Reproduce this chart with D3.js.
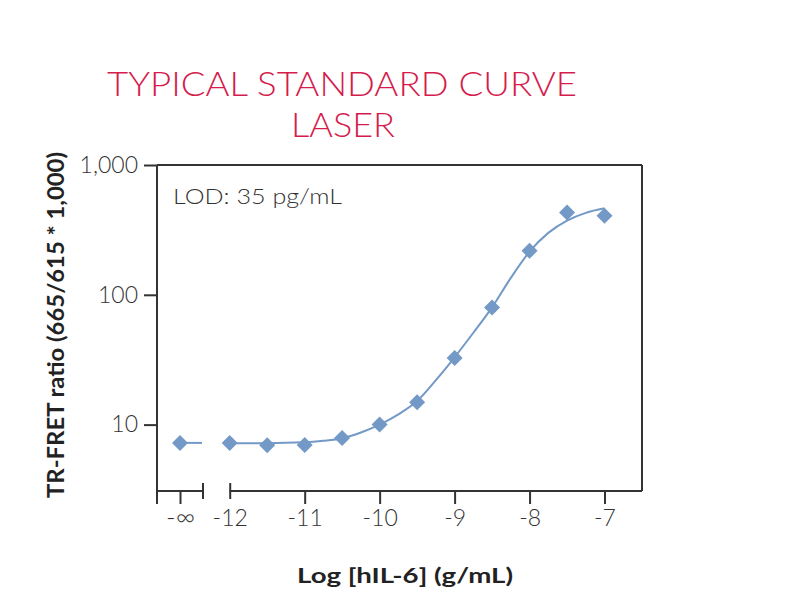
<!DOCTYPE html>
<html>
<head>
<meta charset="utf-8">
<script src="https://cdn.jsdelivr.net/npm/d3@7"></script>
<style>
  body { margin: 0; background: #fff; }
  text { font-family: Lato, "Open Sans", sans-serif; }
</style>
</head>
<body>
<svg width="800" height="600"></svg>
<script>
// measured points (log conc, ratio)
const blankLabel = ["-∞"];
const blankRatio = [7.23];
const logConc = [-12, -11.5, -11, -10.5, -10, -9.5, -9, -8.5, -8, -7.5, -7];
const ratio = [7.23, 6.93, 6.98, 7.9, 10, 14.9, 32.6, 79.9, 218, 430, 407];

// fitted curve
const curveConc = [-12, -11.5, -11, -10.75, -10.5, -10.25, -10, -9.75, -9.5, -9.25, -9, -8.75, -8.5, -8.25, -8, -7.75, -7.5, -7.25, -7];
const curveRatio = [7.2, 7.2, 7.3, 7.5, 7.85, 8.7, 10, 12, 15.2, 22, 33, 51, 80, 135, 215, 300, 373, 428, 464];

const xTicks = [-12, -11, -10, -9, -8, -7];
const yTicks = [10, 100, 1000];

const svg = d3.select("svg");
const pL = 157, pR = 642, pT = 165, pB = 491;
const breakL = 203, breakR = 229.5;
const ink = "#333", blue = "#7399c6";

// scales
const x = d3.scaleLinear().domain([-12.97, -6.5]).range([pL, pR]);
const xInf = d3.scalePoint().domain(blankLabel).range([pL, breakL]);
const y = d3.scaleLog().domain([3.08, 1000]).range([pB, pT]);

// title
svg.append("text").attr("x", 342).attr("y", 96).attr("text-anchor", "middle")
   .attr("fill", "#d51c4c").attr("font-size", 34).attr("font-weight", 300)
   .attr("textLength", 470).attr("lengthAdjust", "spacingAndGlyphs")
   .text("TYPICAL STANDARD CURVE");
svg.append("text").attr("x", 343).attr("y", 137).attr("text-anchor", "middle")
   .attr("fill", "#d51c4c").attr("font-size", 34).attr("font-weight", 300)
   .attr("textLength", 104).attr("lengthAdjust", "spacingAndGlyphs")
   .text("LASER");

// frame
const frame = svg.append("g").attr("stroke", ink).attr("stroke-width", 2).attr("fill", "none");
frame.append("line").attr("x1", pL).attr("x2", pL).attr("y1", pT).attr("y2", pB + 13);
frame.append("line").attr("x1", pL).attr("x2", pR).attr("y1", pT).attr("y2", pT);
frame.append("line").attr("x1", pR).attr("x2", pR).attr("y1", pT).attr("y2", pB);
frame.append("line").attr("x1", pL).attr("x2", breakL).attr("y1", pB).attr("y2", pB);
frame.append("line").attr("x1", breakR).attr("x2", pR).attr("y1", pB).attr("y2", pB);
frame.append("line").attr("x1", breakL).attr("x2", breakL).attr("y1", pB - 8).attr("y2", pB + 8);

// y axis
const yAxis = svg.append("g").attr("transform", `translate(${pL},0)`)
   .call(d3.axisLeft(y).tickValues(yTicks).tickFormat(d3.format(",")).tickSize(13).tickPadding(6));
yAxis.select(".domain").remove();

// x axis, main part
const xAxis = svg.append("g").attr("transform", `translate(0,${pB})`)
   .call(d3.axisBottom(x).tickValues(xTicks).tickFormat(d => d).tickSize(13).tickPadding(6));
xAxis.select(".domain").remove();
xAxis.selectAll(".tick").filter(d => d === -12).select("line").attr("y1", -8).attr("y2", 8);

// x axis, blank part
const xAxis0 = svg.append("g").attr("transform", `translate(0,${pB})`)
   .call(d3.axisBottom(xInf).tickSize(13).tickPadding(6));
xAxis0.select(".domain").remove();

svg.selectAll(".tick line").attr("stroke", ink).attr("stroke-width", 2);
svg.selectAll(".tick text").attr("fill", ink).attr("font-size", 23).attr("font-weight", 300)
   .style("font-family", "Lato, sans-serif");
xAxis0.select(".tick text").attr("font-size", 26).attr("dy", "0.62em");

// curve
const line = d3.line().x(d => x(d[0])).y(d => y(d[1])).curve(d3.curveMonotoneX);
svg.append("path").datum(d3.zip(curveConc, curveRatio))
   .attr("d", line).attr("fill", "none").attr("stroke", blue).attr("stroke-width", 2);
svg.append("line")
   .attr("x1", xInf(blankLabel[0])).attr("x2", breakL - 1)
   .attr("y1", y(blankRatio[0])).attr("y2", y(blankRatio[0]))
   .attr("stroke", blue).attr("stroke-width", 2);

// points
const diamond = d3.symbol().type(d3.symbolSquare).size(128);
svg.append("g").selectAll("path").data(d3.zip(logConc, ratio)).join("path")
   .attr("d", diamond).attr("fill", blue)
   .attr("transform", d => `translate(${x(d[0])},${y(d[1])}) rotate(45)`);
svg.append("path").attr("d", diamond).attr("fill", blue)
   .attr("transform", `translate(${xInf(blankLabel[0])},${y(blankRatio[0])}) rotate(45)`);

// LOD
svg.append("text").attr("x", 173).attr("y", 204).attr("font-size", 22).attr("font-weight", 300)
   .attr("fill", ink).attr("textLength", 169).attr("lengthAdjust", "spacingAndGlyphs")
   .text("LOD: 35 pg/mL");

// axis titles
svg.append("text").attr("x", 405).attr("y", 583).attr("text-anchor", "middle")
   .attr("font-size", 21).attr("font-weight", 700).attr("fill", "#222")
   .attr("textLength", 216).attr("lengthAdjust", "spacingAndGlyphs")
   .text("Log [hIL-6] (g/mL)");
svg.append("text").attr("transform", "translate(63.5,325) rotate(-90)").attr("text-anchor", "middle")
   .attr("font-size", 22).attr("font-weight", 700).attr("fill", "#222")
   .attr("textLength", 346).attr("lengthAdjust", "spacingAndGlyphs")
   .text("TR-FRET ratio (665/615 * 1,000)");
</script>
</body>
</html>
